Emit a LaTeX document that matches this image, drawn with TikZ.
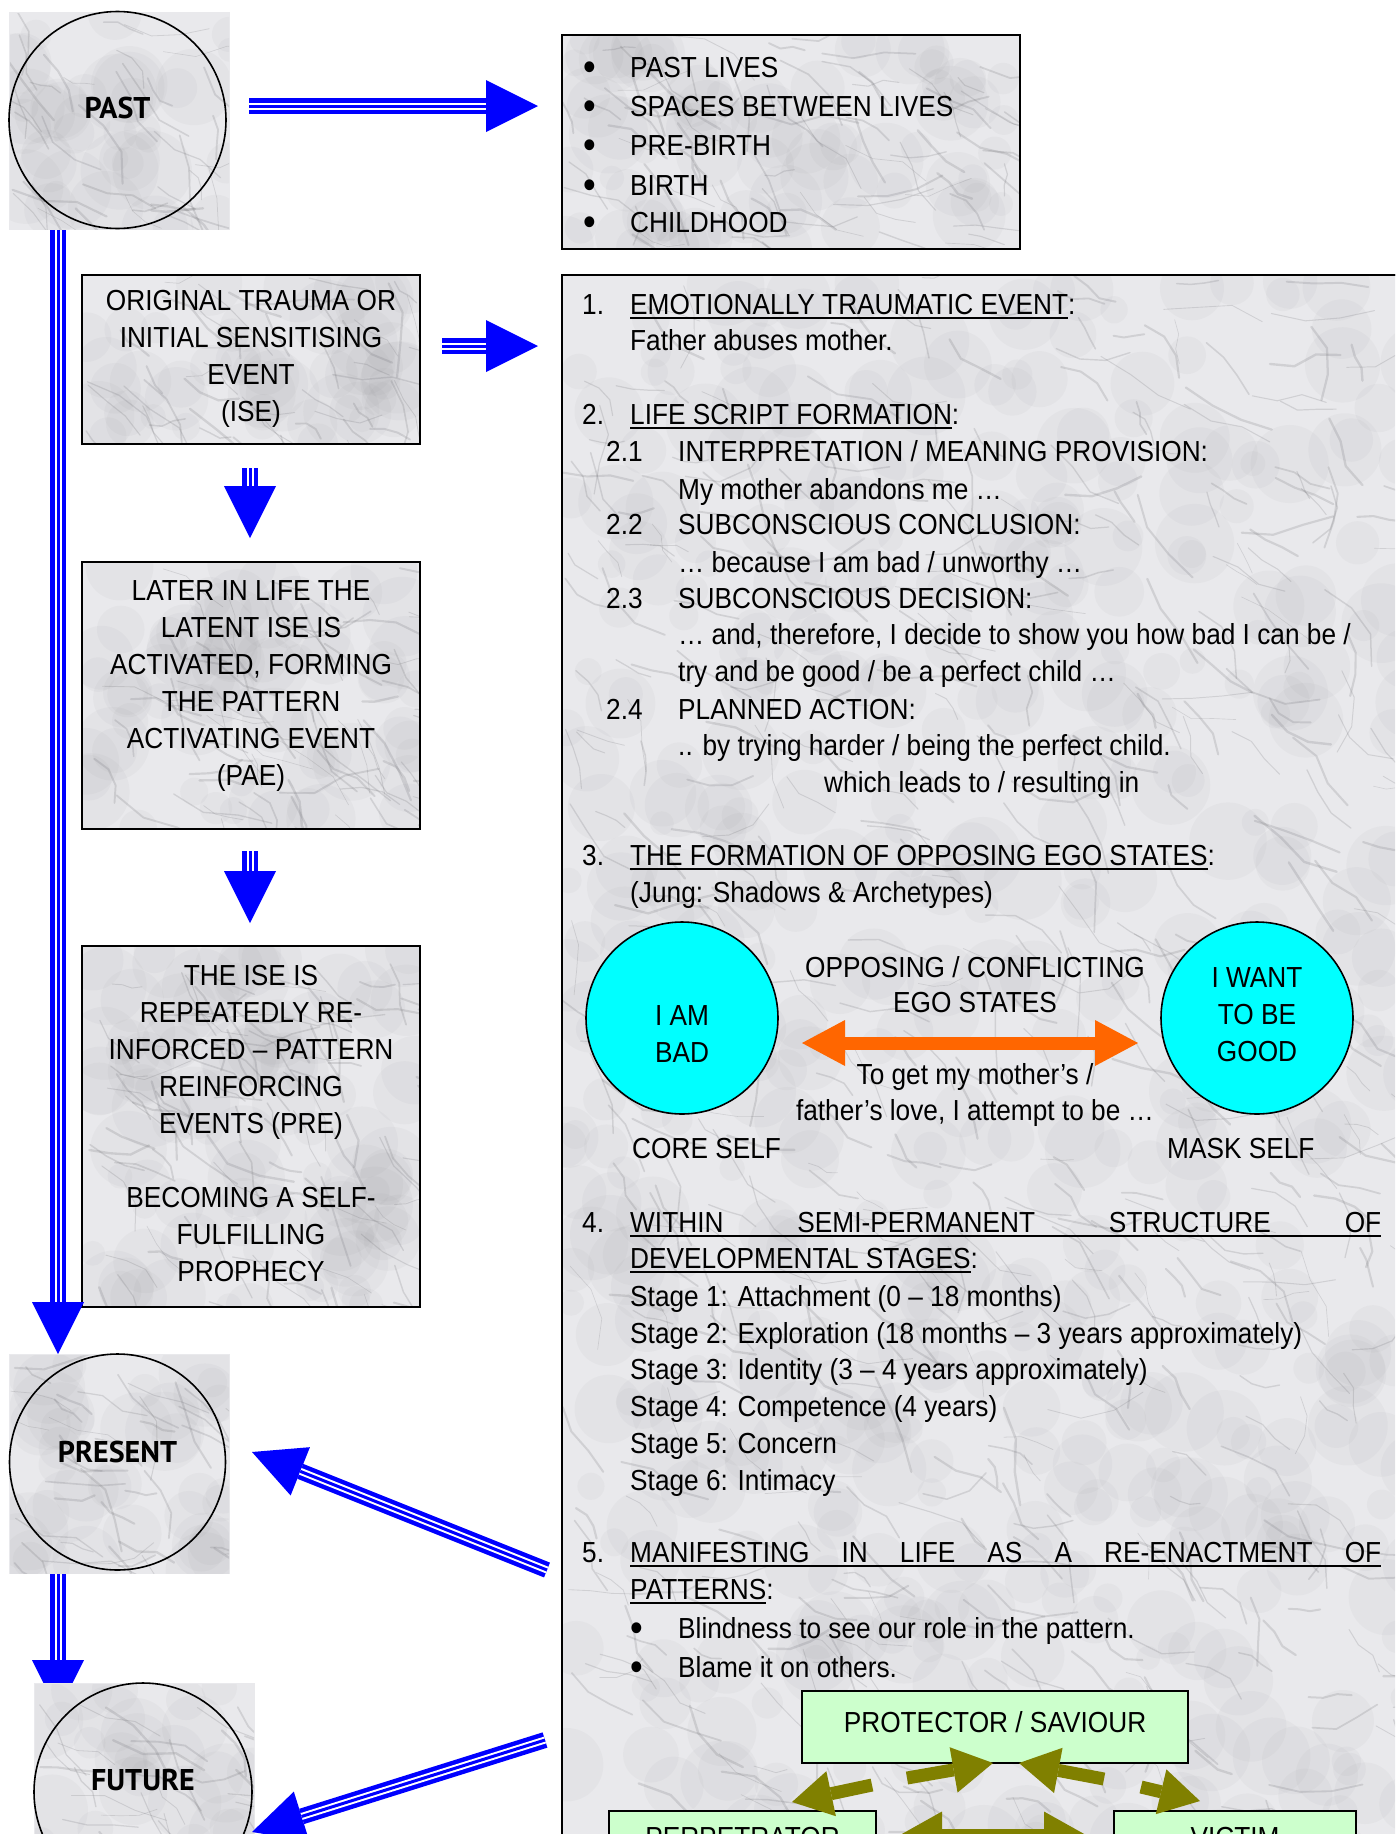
\documentclass[tikz,border=0pt]{standalone}
\usepackage{fontspec}
\setmainfont{Liberation Sans}[FakeStretch=0.905]
\newfontfamily\titlef{PT Sans}
\usetikzlibrary{arrows.meta}
\definecolor{arrowblue}{RGB}{0,0,255}
\definecolor{marble}{RGB}{233,233,236}
\definecolor{vein}{RGB}{110,110,115}
\definecolor{aqua}{RGB}{0,255,255}
\definecolor{orangec}{RGB}{255,102,0}
\definecolor{olivec}{RGB}{128,128,0}
\definecolor{palegreen}{RGB}{204,255,204}
\newsavebox\ulbox
\newcommand\ulx[1]{\sbox\ulbox{#1}\rlap{\rule[-4.5pt]{\wd\ulbox}{1.8pt}}\usebox\ulbox}
% marble texture: x1 y1 x2 y2 count
\newcommand\marbletex[5]{%
  \begin{scope}
    \clip (#1+1,#2+1) rectangle (#3-1,#4-1);
    \foreach \i in {1,...,#5}{
      \pgfmathsetmacro\qx{#1+rnd*(#3-#1)}
      \pgfmathsetmacro\qy{#2+rnd*(#4-#2)}
      \pgfmathsetmacro\rr{12+rnd*28}
      \fill[vein, opacity=0.045] (\qx,\qy) circle (\rr pt);
      \pgfmathsetmacro\px{#1+rnd*(#3-#1)}
      \pgfmathsetmacro\py{#2+rnd*(#4-#2)}
      \pgfmathsetmacro\aa{35+rand*40}
      \pgfmathsetmacro\ab{\aa+rand*35}
      \pgfmathsetmacro\ac{\ab+rand*35}
      \pgfmathsetmacro\len{10+rnd*25}
      \pgfmathsetmacro\lw{0.6+rnd*1.8}
      \draw[vein, opacity=0.2, line width=\lw pt, line cap=round, line join=round]
        (\px,\py) -- ++(\aa:\len) -- ++(\ab:\len) -- ++(\ac:\len);
    }
  \end{scope}}
\tikzset{
  txt/.style={inner sep=0pt, anchor=base west, font=\fontsize{29}{36.8}\selectfont},
  bul/.style={inner sep=0pt, anchor=base, font=\fontsize{40}{40}\selectfont},
  ctxt/.style={inner sep=0pt, align=center, font=\fontsize{29}{37}\selectfont},
  marblesq/.style={fill=marble, draw=none, inner sep=0pt},
  ring/.style={circle, draw, line width=1.6pt, inner sep=0pt},
  circlabel/.style={font=\titlef\bfseries\fontsize{30}{36}\selectfont, inner sep=0pt},
  panel/.style={draw, line width=1.8pt, fill=marble, inner sep=0pt},
  frame/.style={draw, line width=1.8pt, inner sep=0pt},
  greenbox/.style={draw, line width=1.8pt, fill=palegreen, inner sep=0pt},
  egg/.style={circle, draw, line width=1.6pt, fill=aqua, inner sep=0pt, minimum size=192pt},
  bluearrow/.style={draw=arrowblue, line width=16pt, -{Triangle[length=52pt,width=52pt,line width=0pt]}},
  stripes/.style={draw=white, line width=2pt, double=arrowblue, double distance=3pt, shorten >=52pt},
  olivearrow/.style={draw=olivec, line width=13pt, -{Triangle[length=40pt,width=46pt,line width=0pt]}},
  olivetwo/.style={draw=olivec, line width=13pt, {Triangle[length=42pt,width=47pt,line width=0pt]}-{Triangle[length=42pt,width=47pt,line width=0pt]}},
  orangearrow/.style={draw=orangec, line width=13pt, {Triangle[length=43pt,width=46pt,line width=0pt]}-{Triangle[length=43pt,width=46pt,line width=0pt]}},
}
\begin{document}
\begin{tikzpicture}[x=1pt,y=-1pt]
\pgfmathsetseed{4242}
\useasboundingbox (0,0) rectangle (1395,1834);
\clip (0,0) rectangle (1395,1834);

% ---------- backgrounds with marble texture ----------
\node[marblesq, minimum width=221pt, minimum height=218pt] (pastbg) at (119.5,121) {};
\marbletex{9}{12}{230}{230}{40}
\node[marblesq, minimum width=221pt, minimum height=220pt] (presbg) at (119.5,1464) {};
\marbletex{9}{1354}{230}{1574}{40}
\node[panel, minimum width=458pt, minimum height=214pt] (list) at (791,142) {};
\marbletex{562}{35}{1020}{249}{80}
\node[panel, minimum width=338pt, minimum height=169pt] (ise) at (251,359.5) {};
\marbletex{82}{275}{420}{444}{50}
\node[panel, minimum width=338pt, minimum height=267pt] (pae) at (251,695.5) {};
\marbletex{82}{562}{420}{829}{75}
\node[panel, minimum width=338pt, minimum height=361pt] (pre) at (251,1126.5) {};
\marbletex{82}{946}{420}{1307}{100}
\node[panel, minimum width=858pt, minimum height=1585pt] (main) at (991,1067.5) {};
\marbletex{562}{275}{1420}{1860}{560}
% redraw frames over texture
\node[frame, minimum width=458pt, minimum height=214pt] (listf) at (791,142) {};
\node[frame, minimum width=338pt, minimum height=169pt] (isef) at (251,359.5) {};
\node[frame, minimum width=338pt, minimum height=267pt] (paef) at (251,695.5) {};
\node[frame, minimum width=338pt, minimum height=361pt] (pref) at (251,1126.5) {};
\node[frame, minimum width=858pt, minimum height=1585pt] (mainf) at (991,1067.5) {};

% ---------- PAST ----------
\node[ring, minimum size=217pt] (past) at (117.5,120) {};
\node[circlabel] (pastlbl) at (117.5,108) {PAST};

% ---------- list box ----------
\node[bul] (lb1) at (590,80) {•};  \node[txt] (l1) at (630,77) {PAST LIVES};
\node[bul] (lb2) at (590,119) {•}; \node[txt] (l2) at (630,116) {SPACES BETWEEN LIVES};
\node[bul] (lb3) at (590,158) {•}; \node[txt] (l3) at (630,155) {PRE-BIRTH};
\node[bul] (lb4) at (590,198) {•}; \node[txt] (l4) at (630,195) {BIRTH};
\node[bul] (lb5) at (590,235) {•}; \node[txt] (l5) at (630,232) {CHILDHOOD};

% ---------- left boxes ----------
\node[ctxt] (isetxt) at (251,359) {ORIGINAL TRAUMA OR\\INITIAL SENSITISING\\EVENT\\(ISE)};
\node[ctxt] (paetxt) at (251,686) {LATER IN LIFE THE\\LATENT ISE IS\\ACTIVATED, FORMING\\THE PATTERN\\ACTIVATING EVENT\\(PAE)};
\node[ctxt] (pretxt) at (251,1123) {THE ISE IS\\REPEATEDLY RE-\\INFORCED – PATTERN\\REINFORCING\\EVENTS (PRE)\\[37pt]BECOMING A SELF-\\FULFILLING\\PROPHECY};

% ---------- big right panel text ----------
\node[txt] (n1) at (582,314) {1.};
\node[txt] (h1) at (630,314) {\ulx{EMOTIONALLY TRAUMATIC EVENT}:};
\node[txt] (t1) at (630,350) {Father abuses mother.};
\node[txt] (n2) at (582,424) {2.};
\node[txt] (h2) at (630,424) {\ulx{LIFE SCRIPT FORMATION}:};
\node[txt] (n21) at (606,461) {2.1};
\node[txt] (h21) at (678,461) {INTERPRETATION / MEANING PROVISION:};
\node[txt] (t21) at (678,499) {My mother abandons me …};
\node[txt] (n22) at (606,534) {2.2};
\node[txt] (h22) at (678,534) {SUBCONSCIOUS CONCLUSION:};
\node[txt] (t22) at (678,572) {… because I am bad / unworthy …};
\node[txt] (n23) at (606,608) {2.3};
\node[txt] (h23) at (678,608) {SUBCONSCIOUS DECISION:};
\node[txt] (t23a) at (678,644) {… and, therefore, I decide to show you how bad I can be /};
\node[txt] (t23b) at (678,681) {try and be good / be a perfect child …};
\node[txt] (n24) at (606,719) {2.4};
\node[txt] (h24) at (678,719) {PLANNED ACTION:};
\node[txt] (t24) at (678,755) {.. by trying harder / being the perfect child.};
\node[txt] (t24b) at (824,792) {which leads to / resulting in};
\node[txt] (n3) at (582,865) {3.};
\node[txt] (h3) at (630,865) {\ulx{THE FORMATION OF OPPOSING EGO STATES}:};
\node[txt] (t3) at (630,902) {(Jung: Shadows \& Archetypes)};

% ego states
\node[egg] (bad) at (682,1018) {};
\node[ctxt] (badtxt) at (682,1034) {I AM\\BAD};
\node[egg] (good) at (1257,1018) {};
\node[ctxt] (goodtxt) at (1257,1015) {I WANT\\TO BE\\GOOD};
\node[ctxt, font=\fontsize{29}{35}\selectfont] (opp) at (975,985) {OPPOSING / CONFLICTING\\EGO STATES};
\coordinate (oa) at (802,1043);
\coordinate (ob) at (1138,1043);
\draw[orangearrow] (oa) -- (ob);
\node[ctxt, font=\fontsize{29}{36}\selectfont] (love) at (975,1095) {To get my mother’s /\\father’s love, I attempt to be …};
\node[txt] (core) at (632,1158) {CORE SELF};
\node[txt] (mask) at (1167,1158) {MASK SELF};

\node[txt] (n4) at (582,1232) {4.};
\node[txt] (h4a) at (630,1232) {\ulx{\makebox[751pt][l]{WITHIN\hfill SEMI-PERMANENT\hfill STRUCTURE\hfill OF}}};
\node[txt] (h4b) at (630,1268) {\ulx{DEVELOPMENTAL STAGES}:};
\node[txt] (s1) at (630,1306) {Stage 1: Attachment (0 – 18 months)};
\node[txt] (s2) at (630,1343) {Stage 2: Exploration (18 months – 3 years approximately)};
\node[txt] (s3) at (630,1379) {Stage 3: Identity (3 – 4 years approximately)};
\node[txt] (s4) at (630,1416) {Stage 4: Competence (4 years)};
\node[txt] (s5) at (630,1453) {Stage 5: Concern};
\node[txt] (s6) at (630,1490) {Stage 6: Intimacy};

\node[txt] (n5) at (582,1562) {5.};
\node[txt] (h5a) at (630,1562) {\ulx{\makebox[751pt][l]{MANIFESTING\hfill IN\hfill LIFE\hfill AS\hfill A\hfill RE-ENACTMENT\hfill OF}}};
\node[txt] (h5b) at (630,1599) {\ulx{PATTERNS}:};
\node[bul] (mb1) at (637,1641) {•}; \node[txt] (m1) at (678,1638) {Blindness to see our role in the pattern.};
\node[bul] (mb2) at (637,1680) {•}; \node[txt] (m2) at (678,1677) {Blame it on others.};

% drama triangle
\node[greenbox, minimum width=386pt, minimum height=72pt] (prot) at (995,1727) {};
\node[txt, anchor=base] (prottxt) at (995,1732) {PROTECTOR / SAVIOUR};
\node[greenbox, minimum width=267pt, minimum height=80pt] (perp) at (742.5,1851) {};
\node[txt, anchor=base] (perptxt) at (742.5,1847) {PERPETRATOR};
\node[greenbox, minimum width=242pt, minimum height=80pt] (vict) at (1235,1851) {};
\node[txt, anchor=base] (victtxt) at (1235,1847) {VICTIM};
\coordinate (oA1) at (872,1785); \coordinate (oA2) at (792,1802);
\coordinate (oB1) at (907,1778); \coordinate (oB2) at (993,1763);
\coordinate (oC1) at (1104,1779); \coordinate (oC2) at (1019,1763);
\coordinate (oD1) at (1141,1787); \coordinate (oD2) at (1200,1801);
\coordinate (oE1) at (900,1835); \coordinate (oE2) at (1086,1835);
\draw[olivearrow] (oA1) -- (oA2);
\draw[olivearrow] (oB1) -- (oB2);
\draw[olivearrow] (oC1) -- (oC2);
\draw[olivearrow] (oD1) -- (oD2);
\draw[olivetwo] (oE1) -- (oE2);

% ---------- PRESENT ----------
\node[ring, minimum size=216pt] (present) at (117.5,1462) {};
\node[circlabel] (preslbl) at (117.5,1452) {PRESENT};

% ---------- blue arrows ----------
\coordinate (a1s) at (249,106);  \coordinate (a1e) at (538,106);
\coordinate (a2s) at (442,346);  \coordinate (a2e) at (538,346);
\coordinate (a3s) at (250,468);  \coordinate (a3e) at (250,538);
\coordinate (a4s) at (250,851);  \coordinate (a4e) at (250,923);
\coordinate (a5s) at (58,230);   \coordinate (a5e) at (58,1354);
\coordinate (a6s) at (58,1574);  \coordinate (a6e) at (58,1712);
\coordinate (a7s) at (547,1570); \coordinate (a7e) at (252,1452);
\coordinate (a8s) at (545,1740); \coordinate (a8e) at (252,1832);
\foreach \s/\e in {a1s/a1e,a2s/a2e,a3s/a3e,a4s/a4e,a5s/a5e,a6s/a6e,a7s/a7e}{
  \draw[bluearrow] (\s) -- (\e);
  \draw[stripes] (\s) -- (\e);
}

% ---------- FUTURE ----------
\node[marblesq, minimum width=221pt, minimum height=200pt] (futbg) at (144.5,1783) {};
\marbletex{34}{1683}{255}{1883}{36}
\node[ring, minimum size=218pt] (future) at (143,1792) {};
\node[circlabel] (futlbl) at (143,1780) {FUTURE};
\draw[bluearrow] (a8s) -- (a8e);
\draw[stripes] (a8s) -- (a8e);
\end{tikzpicture}
\end{document}
